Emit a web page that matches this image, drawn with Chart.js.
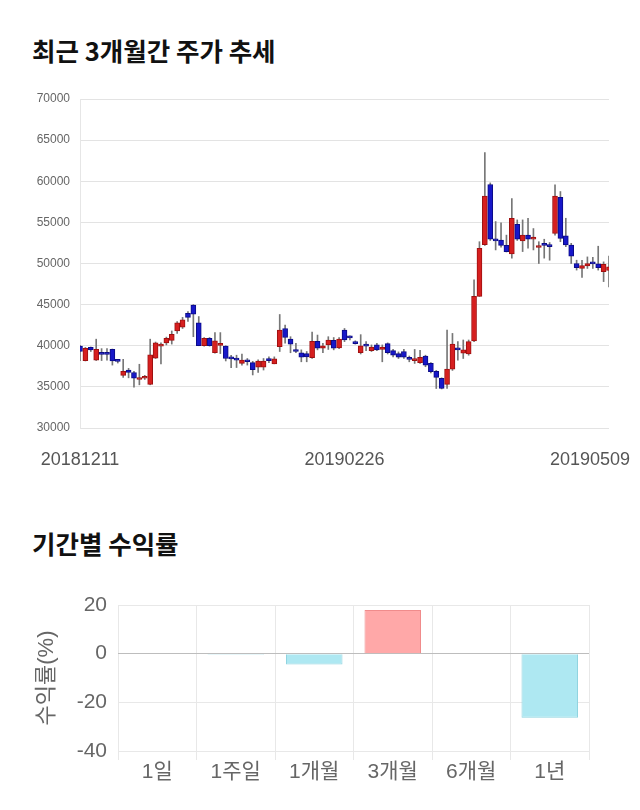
<!DOCTYPE html>
<html>
<head>
<meta charset="utf-8">
<script src="https://cdn.jsdelivr.net/npm/chart.js@4.4.1/dist/chart.umd.min.js"></script>
<style>
  body { margin: 0; width: 640px; height: 810px; background: #fff; position: relative; overflow: hidden; }
  .title { position: absolute; left: 32px; font-family: 'Noto Sans CJK KR', 'Noto Sans', sans-serif; font-weight: bold; font-size: 25.5px; line-height: 28px; color: #111; }
  .box { position: absolute; left: 0; width: 640px; }
</style>
</head>
<body>
<div class="title" style="top:36px">최근 3개월간 주가 추세</div>
<div class="box" style="top:80px;height:400px"><canvas id="priceChart"></canvas></div>
<div class="title" style="top:529px">기간별 수익률</div>
<div class="box" style="top:575px;height:225px"><canvas id="returnChart"></canvas></div>
<script>
// --- Data ---
const dates = [
  '20181211','20181212','20181213','20181214','20181217','20181218','20181219','20181220','20181221','20181224',
  '20181226','20181227','20181228',
  '20190102','20190103','20190104','20190107','20190108','20190109','20190110','20190111','20190114','20190115',
  '20190116','20190117','20190118','20190121','20190122','20190123','20190124','20190125','20190128','20190129',
  '20190130','20190131',
  '20190201','20190207','20190208','20190211','20190212','20190213','20190214','20190215','20190218','20190219',
  '20190220','20190221','20190222','20190225','20190226','20190227','20190228',
  '20190304','20190305','20190306','20190307','20190308','20190311','20190312','20190313','20190314','20190315',
  '20190318','20190319','20190320','20190321','20190322','20190325','20190326','20190327','20190328','20190329',
  '20190401','20190402','20190403','20190404','20190405','20190408','20190409','20190410','20190411','20190412',
  '20190415','20190416','20190417','20190418','20190419','20190422','20190423','20190424','20190425','20190426',
  '20190429','20190430',
  '20190502','20190503','20190507','20190508','20190509'
];

const openP = [
  39950, 38200, 39800, 38250, 39100, 39100, 39550, 38200, 36400, 37050,
  36750, 35900, 36050, 35300, 38500, 39950, 40350, 40650, 41800, 42250,
  43950, 44950, 42800, 40000, 40900, 39150, 40050, 39950, 38500, 38300,
  37850, 38250, 37950, 37400, 37400, 38450, 37800, 39900, 42100, 40800,
  39500, 39150, 39050, 38550, 40550, 39700, 40100, 40650, 39750, 41900,
  41000, 40500, 39150, 40050, 39400, 40100, 39550, 40250, 39400, 39050,
  39300, 38450, 38200, 37950, 38750, 37850, 36900, 36050, 35300, 37150,
  39650, 39100, 39000, 40600, 46000, 52300, 59600, 52950, 52850, 52200,
  51150, 54750, 52750, 53450, 52950, 51950, 52350, 52250, 53650, 58050,
  53350, 52250, 50000, 49400, 49700, 50000, 49950, 49000, 49150
];
const highP = [
  40050, 39800, 39850, 40800, 39650, 39650, 39600, 38250, 38350, 37250,
  36900, 37750, 36400, 40800, 40450, 40350, 41050, 41800, 42950, 43450,
  44150, 45000, 43550, 41000, 41000, 41600, 41600, 40000, 38850, 38850,
  39000, 38450, 38100, 38300, 38450, 38650, 38650, 43800, 42500, 41100,
  40300, 39500, 39300, 41650, 41300, 40300, 41100, 41000, 41000, 42100,
  41200, 40600, 41350, 40500, 40100, 40300, 40100, 40350, 39550, 39250,
  39550, 38750, 39550, 39450, 38850, 37950, 37000, 36100, 41900, 41500,
  40500, 40700, 40700, 48000, 52650, 63500, 59800, 55100, 54950, 53450,
  57900, 55300, 55300, 55500, 54250, 52650, 52950, 52550, 59550, 58750,
  55500, 52450, 50400, 50400, 50800, 50750, 52100, 50200, 50900
];
const lowP = [
  38200, 38150, 39300, 38200, 38200, 38250, 37650, 37900, 36150, 36100,
  34950, 35250, 35900, 35250, 38450, 37800, 40100, 40200, 41500, 42100,
  42950, 41100, 40000, 39950, 39950, 39100, 39050, 38150, 37350, 37350,
  37650, 37650, 36450, 36750, 37050, 37950, 37800, 39300, 40300, 39150,
  39150, 38050, 38050, 38450, 39500, 39150, 39550, 39500, 39650, 40500,
  40700, 40200, 39000, 39400, 39300, 39400, 38050, 39000, 38650, 38450,
  38450, 38050, 37850, 37850, 37450, 36700, 34800, 34750, 34800, 37000,
  38250, 38450, 38850, 40500, 46000, 52200, 52800, 51650, 52000, 51400,
  50650, 52800, 51450, 51850, 51650, 50000, 50650, 50400, 53450, 52650,
  52050, 50000, 49200, 48300, 49400, 49400, 49200, 47800, 47150
];
const closeP = [
  39300, 39700, 39500, 39550, 38950, 38950, 38150, 38100, 36900, 36750,
  36050, 36100, 36150, 38900, 40350, 40050, 40900, 41400, 42800, 43150,
  43450, 43850, 40000, 40900, 40000, 40600, 40300, 38450, 38400, 38250,
  38250, 38050, 37100, 38150, 38150, 38200, 38400, 41900, 41000, 40200,
  39300, 38600, 38650, 40550, 39700, 40000, 40700, 39700, 40800, 40700,
  40950, 40250, 40000, 39950, 39850, 39500, 39850, 39150, 38850, 38600,
  38600, 38350, 38400, 38600, 37650, 36850, 36150, 34800, 37150, 40200,
  39500, 39500, 40500, 46000, 51850, 58200, 52950, 52750, 52200, 51450,
  55500, 52950, 53450, 52950, 53200, 52150, 52200, 52050, 58200, 53050,
  52250, 50900, 49500, 49750, 50000, 49950, 49500, 49900, 49600
];

const priceMin = 30000;
const priceMax = 70000;
const priceStep = 5000;
const dateTickIdx = [0, 49, 98];

const periods = ['1일', '1주일', '1개월', '3개월', '6개월', '1년'];
const returns = [0, -0.4, -4.5, 17.9, 0, -26.3];
const returnMin = -40;
const returnMax = 20;
const returnStep = 20;

// --- Colours ---
const UP_FILL = '#d61f1f', UP_LINE = '#9e1010';
const DOWN_FILL = '#1717c9', DOWN_LINE = '#0b0b86';
const FONT = "'Liberation Sans', Arial, 'Noto Sans CJK KR', sans-serif";

// --- Candlestick chart (floating bars: body + wick) ---
const bodies = openP.map((o, i) => [o, closeP[i]]);
const wicks = lowP.map((l, i) => [l, highP[i]]);
const isUp = openP.map((o, i) => closeP[i] >= o);

// x labels drawn by hand so the last one can be pulled inside the canvas
const dateLabelPlugin = {
  id: 'dateLabels',
  afterDraw(chart) {
    const ctx = chart.ctx;
    const xs = chart.scales.x;
    ctx.save();
    ctx.font = '18px ' + FONT;
    ctx.fillStyle = '#555';
    ctx.textAlign = 'center';
    ctx.textBaseline = 'middle';
    dateTickIdx.forEach(idx => {
      const text = dates[idx];
      const w = ctx.measureText(text).width;
      let px = xs.getPixelForValue(idx);
      px = Math.min(px, chart.width - 10 - w / 2);
      ctx.fillText(text, px, chart.chartArea.bottom + 32);
    });
    ctx.restore();
  }
};

new Chart(document.getElementById('priceChart'), {
  type: 'bar',
  data: {
    labels: dates,
    datasets: [{
      data: bodies,
      grouped: false,
      barThickness: 5,
      minBarLength: 2,
      borderWidth: 1,
      borderSkipped: false,
      backgroundColor: isUp.map(u => u ? UP_FILL : DOWN_FILL),
      borderColor: isUp.map(u => u ? UP_LINE : DOWN_LINE)
    }, {
      data: wicks,
      grouped: false,
      barThickness: 1,
      borderWidth: 0,
      backgroundColor: '#777'
    }]
  },
  options: {
    responsive: true,
    maintainAspectRatio: false,
    animation: false,
    layout: { padding: { top: 19, right: 31, bottom: 52, left: 0 } },
    plugins: { legend: { display: false }, tooltip: { enabled: false } },
    scales: {
      x: {
        offset: false,
        grid: { display: false },
        border: { display: false },
        ticks: { display: false },
        afterFit: s => { s.height = 0; }
      },
      y: {
        min: priceMin,
        max: priceMax,
        afterFit: s => { s.width = 80; },
        ticks: {
          stepSize: priceStep, color: '#666', padding: 10,
          font: { size: 12, family: FONT },
          callback: v => String(v)
        },
        grid: { color: '#e3e3e3', drawTicks: false },
        border: { display: true, color: '#e6e6e6' }
      }
    }
  },
  plugins: [dateLabelPlugin]
});

// --- Period returns chart ---
new Chart(document.getElementById('returnChart'), {
  type: 'bar',
  data: {
    labels: periods,
    datasets: [{
      data: returns,
      borderWidth: 1,
      backgroundColor: returns.map(v => v >= 0 ? '#ffa8a8' : '#aee8f2'),
      borderColor: returns.map(v => v >= 0 ? '#f08c8c' : '#90d4e0')
    }]
  },
  options: {
    responsive: true,
    maintainAspectRatio: false,
    animation: false,
    layout: { padding: { top: 30, right: 51, bottom: 0, left: 30 } },
    plugins: { legend: { display: false }, tooltip: { enabled: false } },
    scales: {
      x: {
        afterFit: s => { s.height = 49; },
        ticks: { color: '#666', padding: 0, font: { size: 21, family: FONT } },
        grid: { color: '#e8e8e8', offset: true, tickLength: 9 },
        border: { display: false }
      },
      y: {
        min: returnMin,
        max: returnMax,
        afterFit: s => { s.width = 88; },
        title: { display: true, text: '수익률(%)', color: '#666', font: { size: 22, family: FONT } },
        ticks: { stepSize: returnStep, color: '#666', padding: 11, font: { size: 21, family: FONT } },
        grid: {
          drawTicks: false,
          color: ctx => ctx.tick && ctx.tick.value === 0 ? '#bdbdbd' : '#e8e8e8'
        },
        border: { display: false }
      }
    }
  }
});
</script>
</body>
</html>
